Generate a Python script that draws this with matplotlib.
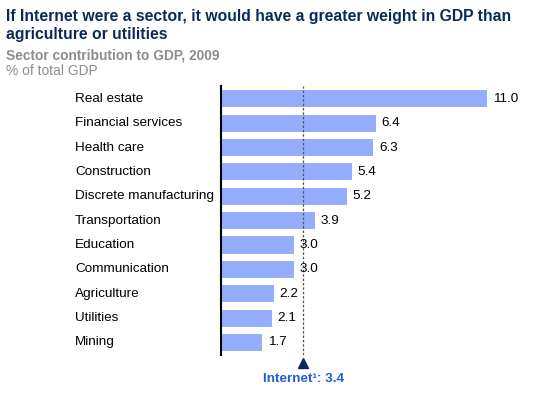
import matplotlib.pyplot as plt

plt.rcParams['font.family'] = ['Liberation Sans', 'DejaVu Sans']

sectors = ['Real estate', 'Financial services', 'Health care', 'Construction',
           'Discrete manufacturing', 'Transportation', 'Education',
           'Communication', 'Agriculture', 'Utilities', 'Mining']
shares = [11.0, 6.4, 6.3, 5.4, 5.2, 3.9, 3.0, 3.0, 2.2, 2.1, 1.7]
internet = 3.4

fig = plt.figure(figsize=(5.4, 3.95), dpi=100)
ax = fig.add_axes([0.409, 0.101, 0.591, 0.681])

y = list(range(len(sectors)))
ax.barh(y, shares, height=0.7, color='#94adfc')
for yi, v in zip(y, shares):
    ax.annotate(f'{v:.1f}', xy=(v, yi), xytext=(4, 0), textcoords='offset points',
                va='center', ha='left', fontsize=9.7, color='black')

for yi, name in zip(y, sectors):
    ax.annotate(name, xy=(0, yi), xycoords=('axes fraction', 'data'),
                xytext=(-105, 0), textcoords='offset points', va='center', ha='left',
                fontsize=9.7, color='black')

ax.set_xlim(0, 13.18)
ax.set_ylim(10.52, -0.52)
for s in ['top', 'right', 'bottom']:
    ax.spines[s].set_visible(False)
ax.spines['left'].set_linewidth(1.5)
ax.set_xticks([])
ax.set_yticks([])

ax.axvline(internet, color='#555555', linestyle=(0, (2, 1.5)), linewidth=0.9)
ax.plot([internet], [10.85], marker='^', color='#0b2a5b', markersize=7, clip_on=False)
ax.text(internet, 11.5, 'Internet\u00b9: 3.4', ha='center', va='center', fontsize=9.7,
        fontweight='bold', color='#1f5fd6', clip_on=False)

fig.text(0.011, 0.978, 'If Internet were a sector, it would have a greater weight in GDP than\nagriculture or utilities',
         ha='left', va='top', fontsize=11.3, fontweight='bold', color='#0b2a5b', linespacing=1.3)
fig.text(0.011, 0.878, 'Sector contribution to GDP, 2009', ha='left', va='top',
         fontsize=9.9, fontweight='bold', color='#8c8c8c')
fig.text(0.011, 0.838, '% of total GDP', ha='left', va='top', fontsize=9.9, color='#8c8c8c')

fig.savefig('out.png', dpi=100)
